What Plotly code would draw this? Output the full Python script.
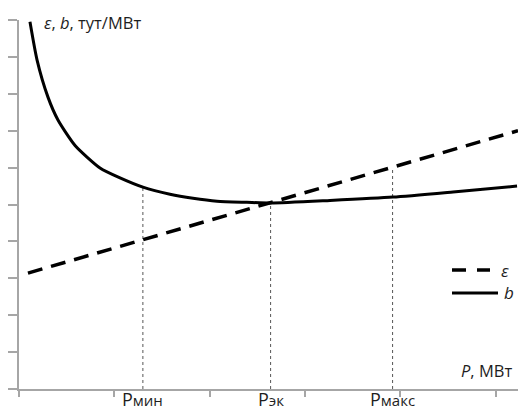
import plotly.graph_objects as go

# Specific fuel consumption b (solid) versus power P
p_b = [0.115, 0.189, 0.304, 0.409, 0.588, 0.850, 1.060, 1.30, 1.584, 1.826, 2.078, 2.392, 2.644, 3.263, 3.924, 4.554, 5.226]
b_vals = [9.95, 8.92, 7.91, 7.29, 6.60, 5.99, 5.72, 5.47, 5.28, 5.17, 5.09, 5.06, 5.04, 5.11, 5.20, 5.34, 5.50]

# Relative fuel increment ε (dashed straight line)
p_eps = [0.094, 5.236]
eps_vals = [3.14, 7.00]

# Characteristic operating points and the height of their guide lines
p_marks = [1.30, 2.64, 3.92]
mark_heights = [5.47, 5.04, 5.99]
mark_main = ["P", "P", "P"]
mark_subs = ["мин", "эк", "макс"]

x_ticks = [0, 1, 2, 3, 4, 5]
y_ticks = [0, 1, 2, 3, 4, 5, 6, 7, 8, 9, 10]

FONT = "Open Sans"
TXT = "#1e1e1e"
AX = "#a6a6a6"

fig = go.Figure()

for xm, hm in zip(p_marks, mark_heights):
    fig.add_trace(go.Scatter(
        x=[xm, xm], y=[0, hm], mode="lines",
        line=dict(color="#555555", width=1, dash="dot"),
        showlegend=False, hoverinfo="skip"))

fig.add_trace(go.Scatter(
    x=p_eps, y=eps_vals, mode="lines", name="ε",
    line=dict(color="black", width=3.5, dash="15px,9px"),
    showlegend=False))

fig.add_trace(go.Scatter(
    x=p_b, y=b_vals, mode="lines", name="b",
    line=dict(color="black", width=3, shape="spline", smoothing=0.6),
    showlegend=False))

annotations = []
for xm, main, sub in zip(p_marks, mark_main, mark_subs):
    annotations.append(dict(
        x=xm, y=0, xref="x", yref="paper", yanchor="top", xanchor="center",
        yshift=3, showarrow=False, borderpad=0,
        text=f'<span style="font-size:18px">{main}</span><span style="font-size:15px">{sub}</span>',
        font=dict(family=FONT, color=TXT)))

# Axis titles
annotations.append(dict(
    x=(42 - 19) / 499, y=(389 - 22) / 369, xref="paper", yref="paper",
    xanchor="left", yanchor="middle", showarrow=False,
    text="<i>ε</i>, <i>b</i>, тут/МВт", font=dict(family=FONT, size=16.5, color=TXT)))
annotations.append(dict(
    x=1, y=(389 - 370) / 369, xref="paper", yref="paper",
    xanchor="right", yanchor="middle", showarrow=False, xshift=-4,
    text="<i>P</i>, МВт", font=dict(family=FONT, size=16.5, color=TXT)))

# Legend drawn by hand: line samples with their labels
leg_y = [(389 - 270) / 369, (389 - 293) / 369]
x0, x1 = (452 - 19) / 499, (490 - 19) / 499
shapes = [
    dict(type="line", xref="paper", yref="paper", x0=x0, x1=x1, y0=leg_y[0], y1=leg_y[0],
         line=dict(color="black", width=3.5, dash="14px,11px")),
    dict(type="line", xref="paper", yref="paper", x0=x0, x1=(498 - 19) / 499, y0=leg_y[1], y1=leg_y[1],
         line=dict(color="black", width=3)),
]
annotations.append(dict(x=(499 - 19) / 499, y=leg_y[0], xref="paper", yref="paper",
                        xanchor="left", yanchor="middle", showarrow=False,
                        text="<i>ε</i>", font=dict(family=FONT, size=17, color=TXT)))
annotations.append(dict(x=(502 - 19) / 499, y=leg_y[1], xref="paper", yref="paper",
                        xanchor="left", yanchor="middle", showarrow=False,
                        text="<i>b</i>", font=dict(family=FONT, size=17, color=TXT)))

fig.update_layout(
    width=518, height=411,
    margin=dict(l=19, r=0, t=20, b=22),
    paper_bgcolor="white", plot_bgcolor="white",
    showlegend=False,
    annotations=annotations, shapes=shapes,
    xaxis=dict(range=[0, 5.236], tickvals=x_ticks, showticklabels=False,
               ticks="outside", ticklen=6, tickwidth=1.5, tickcolor=AX,
               showline=True, linecolor=AX, linewidth=1.5,
               showgrid=False, zeroline=False, fixedrange=True),
    yaxis=dict(range=[0, 10], tickvals=y_ticks, showticklabels=False,
               ticks="outside", ticklen=9, tickwidth=1.5, tickcolor=AX,
               showline=True, linecolor=AX, linewidth=1.5,
               showgrid=False, zeroline=False, fixedrange=True),
)

fig.write_html("out.html")
